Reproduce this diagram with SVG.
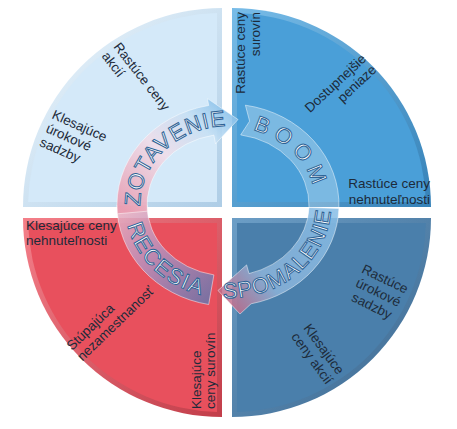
<svg xmlns="http://www.w3.org/2000/svg" width="457" height="429" viewBox="0 0 457 429">
<defs>
<linearGradient id="bevTL" x1="0" y1="0" x2="1" y2="1"><stop offset="0" stop-color="#eef7fd"/><stop offset="1" stop-color="#aecde6"/></linearGradient>
<linearGradient id="bevTR" x1="0" y1="0" x2="1" y2="1"><stop offset="0" stop-color="#78bce8"/><stop offset="1" stop-color="#3682b8"/></linearGradient>
<linearGradient id="bevBL" x1="0" y1="0" x2="1" y2="1"><stop offset="0" stop-color="#f47f89"/><stop offset="1" stop-color="#c23e4a"/></linearGradient>
<linearGradient id="bevBR" x1="0" y1="0" x2="1" y2="1"><stop offset="0" stop-color="#6c9ec6"/><stop offset="1" stop-color="#3a668e"/></linearGradient>
<linearGradient id="gZ" gradientUnits="userSpaceOnUse" x1="135" y1="220" x2="238" y2="110"><stop offset="0" stop-color="#e99cb0"/><stop offset="0.45" stop-color="#efdde9"/><stop offset="0.75" stop-color="#c6e0f4"/><stop offset="1" stop-color="#7ebbe8"/></linearGradient>
<linearGradient id="gS" gradientUnits="userSpaceOnUse" x1="335" y1="210" x2="220" y2="305"><stop offset="0" stop-color="#86bde6"/><stop offset="0.65" stop-color="#8cb4da"/><stop offset="1" stop-color="#cf5f7b"/></linearGradient>
<linearGradient id="gR" gradientUnits="userSpaceOnUse" x1="120" y1="205" x2="212" y2="300"><stop offset="0" stop-color="#ecb0c0"/><stop offset="0.45" stop-color="#b98fba"/><stop offset="1" stop-color="#6a74aa"/></linearGradient>
<path id="pZ" d="M140.1,207.7 A89,79 0 0 1 228,126"/>
<path id="pB" d="M255.2,130.8 A89,79 0 0 1 314.1,188.8"/>
<path id="pS" d="M222.6,297.9 A103,93 0 0 0 330.9,209.9"/>
<path id="pR" d="M127.6,225.9 A103,93 0 0 0 201.3,294.8"/>
</defs>
<style>
.lbl{font-family:"Liberation Sans",Arial,sans-serif;font-size:13.5px;fill:#1d2b3a}
.ring{font-family:"Liberation Sans",Arial,sans-serif;font-size:22px;fill:#ffffff;stroke:#2f6496;stroke-width:1}
.seg{stroke:#ffffff;stroke-opacity:0.6;stroke-width:0.8}
</style>

<g id="q-tl">
<path d="M222,207 L23,207 A199,199 0 0 1 222,8 Z" fill="url(#bevTL)"/>
<path d="M217,202 L28.1,202 A194,194 0 0 1 217,13.1 Z" fill="#d4e9f9"/>
<text class="lbl" transform="translate(113,47) rotate(52)"><tspan x="0" y="0">Rastúce ceny</tspan><tspan x="0" y="15">akcií</tspan></text>
<text class="lbl" transform="translate(51,118) rotate(24)"><tspan x="0" y="0">Klesajúce</tspan><tspan x="0" y="15">úrokové</tspan><tspan x="0" y="30">sadzby</tspan></text>
</g>

<g id="q-tr">
<path d="M232,207 L232,8 A199,199 0 0 1 431,207 Z" fill="url(#bevTR)"/>
<path d="M237,202 L237,13.1 A194,194 0 0 1 425.9,202 Z" fill="#4a9fd8"/>
<text class="lbl" transform="translate(245,12) rotate(-90)" text-anchor="end"><tspan x="0" y="0">Rastúce ceny</tspan><tspan x="0" y="15">surovín</tspan></text>
<text class="lbl" transform="translate(367,60) rotate(-43)" text-anchor="end"><tspan x="0" y="0">Dostupnejšie</tspan><tspan x="0" y="15">peniaze</tspan></text>
<text class="lbl" text-anchor="end"><tspan x="430" y="188">Rastúce ceny</tspan><tspan x="430" y="204">nehnuteľnosti</tspan></text>
</g>

<g id="q-bl">
<path d="M222,218 L222,417 A199,199 0 0 1 23,218 Z" fill="url(#bevBL)"/>
<path d="M217,223 L217,411.9 A194,194 0 0 1 28.1,223 Z" fill="#e8505d"/>
<text class="lbl"><tspan x="26" y="230">Klesajúce ceny</tspan><tspan x="26" y="245">nehnuteľnosti</tspan></text>
<text class="lbl" transform="translate(72,351) rotate(-44)"><tspan x="0" y="0">Stúpajúca</tspan><tspan x="0" y="15">nezamestnanosť</tspan></text>
<text class="lbl" transform="translate(201,409) rotate(-90)"><tspan x="0" y="0">Klesajúce</tspan><tspan x="0" y="14">ceny surovín</tspan></text>
</g>

<g id="q-br">
<path d="M232,218 L431,218 A199,199 0 0 1 232,417 Z" fill="url(#bevBR)"/>
<path d="M237,223 L425.9,223 A194,194 0 0 1 237,411.9 Z" fill="#4a7fab"/>
<text class="lbl" transform="translate(383,283) rotate(26)" text-anchor="middle"><tspan x="0" y="0">Rastúce</tspan><tspan x="0" y="15">úrokové</tspan><tspan x="0" y="30">sadzby</tspan></text>
<text class="lbl" transform="translate(303,328) rotate(54)"><tspan x="0" y="0">Klesajúce</tspan><tspan x="0" y="15">ceny akcií</tspan></text>
</g>

<g id="connectors">
<g id="recesia">
<path class="seg" d="M208.7,304.5 A111,101 0 0 1 117,205 L147,205 A81,71 0 0 0 213.9,274.9 Z" fill="url(#gR)" fill-opacity="0.88"/>
<text class="ring" letter-spacing="1.5"><textPath href="#pR" startOffset="50%" text-anchor="middle">RECESIA</textPath></text>
</g>
<g id="zotavenie">
<path class="seg" d="M117.4,213.8 A111,101 0 0 1 208.7,105.5 L207.5,98.6 L238,119.5 L215.5,143.9 L213.9,135.1 A81,71 0 0 0 147.3,211.2 Z" fill="url(#gZ)" fill-opacity="0.9"/>
<text class="ring" letter-spacing="1"><textPath href="#pZ" startOffset="50%" text-anchor="middle">ZOTAVENIE</textPath></text>
</g>
<g id="boom">
<path class="seg" d="M245.4,105.2 A111,101 0 0 1 338.9,208.5 L309,207.5 A81,71 0 0 0 240.7,134.9 L249.6,121.2 Z" fill="#ffffff" fill-opacity="0.27"/>
<text class="ring" letter-spacing="6"><textPath href="#pB" startOffset="50%" text-anchor="middle">BOOM</textPath></text>
</g>
<g id="spomalenie">
<path class="seg" d="M338.9,208.5 A111,101 0 0 1 251.1,303.8 L240,314 L218,290.5 L246.6,264.9 L249,273.6 A81,71 0 0 0 309,207.5 Z" fill="url(#gS)" fill-opacity="0.85"/>
<text class="ring" letter-spacing="1"><textPath href="#pS" startOffset="50%" text-anchor="middle">SPOMALENIE</textPath></text>
</g>
</g>
</svg>
